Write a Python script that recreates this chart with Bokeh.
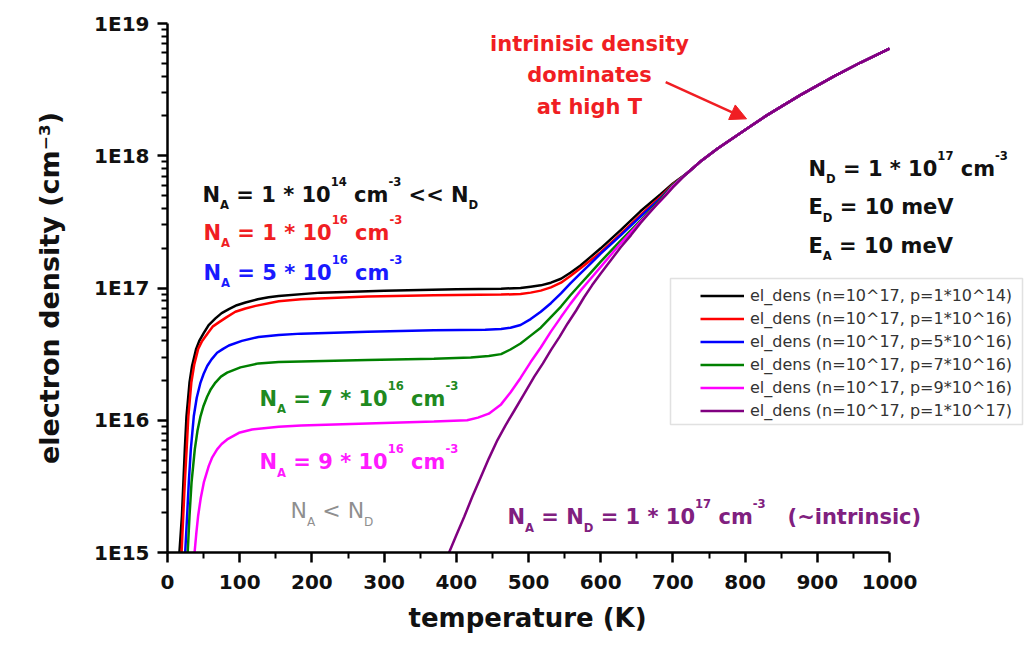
from bokeh.plotting import figure
from bokeh.models import (Range1d, FixedTicker, CustomJSTickFormatter, Label, Legend,
                          LegendItem, Arrow, NormalHead, BoxAnnotation, Title)
from bokeh.embed import file_html
from bokeh.resources import INLINE

# ---------------- data ----------------
x_ticks = [0, 100, 200, 300, 400, 500, 600, 700, 800, 900, 1000]
x_minor = [50, 150, 250, 350, 450, 550, 650, 750, 850, 950]
y_ticks = [1e15, 1e16, 1e17, 1e18, 1e19]
y_tick_labels = ["1E15", "1E16", "1E17", "1E18", "1E19"]

# shared high-temperature part (all curves coincide)
temps_high = [720, 740, 762, 785, 808, 830, 854, 877, 900, 923, 960, 1000]
log_n_high = [17.87, 17.965, 18.055, 18.14, 18.225, 18.305, 18.385, 18.46, 18.53, 18.60,
              18.705, 18.81]

temps_black = [16.5, 20, 22, 24, 26.3, 30.5, 34, 39.7, 44, 50.3, 57, 66.4, 75, 85, 96, 108, 125,
               140, 154, 212, 300, 400, 462, 489, 503, 517, 531, 545, 558, 572, 586, 600, 628,
               655, 683, 700]
log_n_black = [15.0, 15.28, 15.53, 15.78, 16.03, 16.285, 16.41, 16.54, 16.60, 16.66, 16.72,
               16.77, 16.81, 16.84, 16.87, 16.89, 16.915, 16.93, 16.94, 16.965, 16.98, 16.99,
               16.995, 17.0, 17.01, 17.02, 17.04, 17.07, 17.115, 17.17, 17.235, 17.30, 17.44,
               17.58, 17.71, 17.79]

temps_red = [19.5, 22, 24, 26.5, 28.9, 33, 37, 42.5, 48, 56, 63, 71, 82, 94, 108, 122, 154, 185,
             277, 369, 462, 489, 503, 517, 531, 545, 558, 572, 586, 600, 628, 655, 683, 700]
log_n_red = [15.0, 15.3, 15.53, 15.78, 16.03, 16.285, 16.42, 16.54, 16.6, 16.66, 16.71, 16.74,
             16.78, 16.82, 16.845, 16.865, 16.90, 16.915, 16.935, 16.945, 16.95, 16.955, 16.965,
             16.98, 17.005, 17.04, 17.09, 17.15, 17.21, 17.27, 17.41, 17.55, 17.69, 17.785]

temps_blue = [24.5, 27.2, 29.5, 32.3, 36.4, 40.5, 45.7, 50, 55, 61, 68.7, 77, 85, 103, 126, 154,
              185, 277, 369, 440, 462, 475, 489, 503, 517, 531, 545, 558, 572, 586, 600, 628,
              655, 683, 700]
log_n_blue = [15.0, 15.28, 15.53, 15.78, 16.03, 16.17, 16.285, 16.35, 16.41, 16.46, 16.51, 16.54,
              16.565, 16.60, 16.63, 16.645, 16.655, 16.67, 16.68, 16.685, 16.69, 16.70, 16.72,
              16.765, 16.82, 16.885, 16.96, 17.035, 17.11, 17.185, 17.26, 17.40, 17.54, 17.68,
              17.78]

temps_green = [28, 30.5, 33.3, 37.8, 41.5, 45.7, 50, 55, 60, 66.4, 74, 82.6, 101, 126, 154, 185,
               277, 369, 420, 445, 462, 475, 489, 503, 517, 531, 545, 558, 572, 586, 600, 628,
               655, 683, 700]
log_n_green = [15.0, 15.28, 15.53, 15.78, 15.92, 16.03, 16.11, 16.18, 16.235, 16.285, 16.33,
               16.36, 16.40, 16.43, 16.44, 16.445, 16.455, 16.465, 16.475, 16.485, 16.50, 16.535,
               16.58, 16.64, 16.70, 16.78, 16.86, 16.945, 17.03, 17.115, 17.20, 17.36, 17.51,
               17.67, 17.78]

temps_magenta = [37.5, 40, 42.5, 46, 50.3, 57.2, 62, 68.7, 75, 82.6, 99, 117, 154, 185, 277, 369,
                 415, 430, 445, 462, 475, 489, 503, 517, 531, 545, 558, 572, 586, 600, 628, 655,
                 683, 700]
log_n_magenta = [15.0, 15.15, 15.28, 15.41, 15.53, 15.655, 15.72, 15.78, 15.82, 15.855, 15.905,
                 15.93, 15.95, 15.96, 15.975, 15.99, 16.0, 16.02, 16.05, 16.12, 16.21, 16.32,
                 16.44, 16.55, 16.67, 16.78, 16.88, 16.98, 17.07, 17.16, 17.34, 17.50, 17.66,
                 17.77]

temps_purple = [390, 400, 411, 422, 434, 445, 457, 468, 480, 494, 508, 520, 531, 543, 554, 566,
                577, 588, 600, 614, 628, 642, 655, 667, 679, 690, 700]
log_n_purple = [15.0, 15.13, 15.27, 15.42, 15.57, 15.71, 15.85, 15.96, 16.07, 16.20, 16.33,
                16.43, 16.53, 16.63, 16.73, 16.83, 16.93, 17.02, 17.11, 17.21, 17.31, 17.40,
                17.49, 17.565, 17.64, 17.70, 17.76]

series_labels = [
    "el_dens (n=10^17, p=1*10^14)",
    "el_dens (n=10^17, p=1*10^16)",
    "el_dens (n=10^17, p=5*10^16)",
    "el_dens (n=10^17, p=7*10^16)",
    "el_dens (n=10^17, p=9*10^16)",
    "el_dens (n=10^17, p=1*10^17)",
]
series_temps = [temps_black, temps_red, temps_blue, temps_green, temps_magenta, temps_purple]
series_logs = [log_n_black, log_n_red, log_n_blue, log_n_green, log_n_magenta, log_n_purple]
series_colors = ["#000000", "#ff0000", "#0000ff", "#008000", "#ff00ff", "#800080"]

# ---------------- figure ----------------
W, H = 1031, 647
FL, FT, FB = 167, 23, 552          # frame edges in pixels
AX_R = 889                          # pixel where T = 1000 lies
x_end = 1000.0 * (W - FL) / (AX_R - FL)

p = figure(width=W, height=H, output_backend="svg", toolbar_location=None,
           x_range=Range1d(0, x_end), y_range=Range1d(1e15, 1e19), y_axis_type="log",
           min_border_left=FL, min_border_right=0, min_border_top=FT,
           min_border_bottom=H - FB)
p.outline_line_color = None
p.grid.visible = False
p.background_fill_color = "white"
p.border_fill_color = "white"

p.xaxis.ticker = FixedTicker(ticks=x_ticks, minor_ticks=x_minor)
p.xaxis.bounds = (0, 1000)
p.yaxis.ticker = FixedTicker(ticks=y_ticks,
                             minor_ticks=[m * 10.0 ** e for e in range(15, 19) for m in range(2, 10)])
p.yaxis.formatter = CustomJSTickFormatter(args=dict(labels=y_tick_labels),
                                          code="return labels[Math.round(Math.log10(tick)) - 15];")

for ax in (p.xaxis, p.yaxis):
    ax.axis_line_width = 2.5
    ax.axis_line_color = "black"
    ax.major_tick_line_width = 2.5
    ax.minor_tick_line_width = 2
    ax.major_tick_out = 10
    ax.major_tick_in = 0
    ax.minor_tick_out = 6
    ax.minor_tick_in = 0
    ax.major_label_text_font = "DejaVu Sans"
    ax.major_label_text_font_style = "bold"
    ax.major_label_text_font_size = "20px"
    ax.major_label_text_color = "#111111"
    ax.axis_label_text_font = "DejaVu Sans"
    ax.axis_label_text_font_style = "bold"
    ax.axis_label_text_color = "#111111"

p.xaxis.major_label_standoff = 12
p.yaxis.major_label_standoff = 8
p.yaxis.axis_label = "electron density (cm\u207b\u00b3)"
p.yaxis.axis_label_text_font_size = "27px"
p.yaxis.axis_label_standoff = 26

# x-axis title, positioned under the T = 0..1000 axis (frame extends further right)
p.add_layout(Title(text="temperature (K)", align="left", offset=408 - FL, standoff=18,
                   text_font="DejaVu Sans", text_font_style="bold", text_font_size="26px",
                   text_color="#111111"), "below")

renderers = []
for t, lg, c in zip(series_temps, series_logs, series_colors):
    xs = list(t) + temps_high
    ys = [10.0 ** v for v in list(lg) + log_n_high]
    renderers.append(p.line(xs, ys, line_color=c, line_width=2.5))

# ---------------- legend ----------------
legend = Legend(items=[LegendItem(label=l, renderers=[r]) for l, r in zip(series_labels, renderers)],
                location=(700 - FL, FB - 422), padding=0, margin=0, spacing=0,
                glyph_width=44, glyph_height=23, label_height=23, label_standoff=6,
                border_line_color=None, background_fill_alpha=0,
                label_text_font="DejaVu Sans", label_text_font_size="16px",
                label_text_color="#333333")
p.add_layout(legend)
p.add_layout(BoxAnnotation(left=670 - FL, right=1022 - FL, top=FB - 278, bottom=FB - 424,
                           left_units="screen", right_units="screen", top_units="screen",
                           bottom_units="screen", fill_color=None, fill_alpha=0,
                           line_color="#9a9a9a", line_width=1.5))

# ---------------- rich text annotations ----------------
BOLD_W = {" ": 0.348, "=": 0.838, "<": 0.838, "~": 0.838, "*": 0.523, "-": 0.415, "(": 0.457,
          ")": 0.457, "A": 0.774, "D": 0.830, "E": 0.683, "N": 0.837, "T": 0.682, "V": 0.774,
          "a": 0.675, "c": 0.593, "d": 0.716, "e": 0.678, "g": 0.716, "h": 0.712, "i": 0.343,
          "m": 1.042, "n": 0.712, "o": 0.687, "r": 0.493, "s": 0.595, "t": 0.478, "y": 0.652}
REG_W = {" ": 0.318, "<": 0.838, "N": 0.748, "A": 0.684, "D": 0.770}


def text_width(s, table, size):
    return sum(table.get(ch, 0.696) for ch in s) * size


def rich(px, py, segments, color, size=21, bold=True):
    table = BOLD_W if bold else REG_W
    x = px - FL
    y = FB - py
    for s, kind in segments:
        fs = size * 0.55 if kind else size
        dy = -0.5 * size if kind == "sub" else (0.62 * size if kind == "sup" else 0)
        lead = len(s) - len(s.lstrip(" "))
        txt = s.strip(" ")
        if txt:
            p.add_layout(Label(x=x + text_width(" " * lead, table, fs), y=y + dy,
                               x_units="screen", y_units="screen", text=txt,
                               text_font="DejaVu Sans", text_font_size=f"{fs:.1f}px",
                               text_font_style="bold" if bold else "normal",
                               text_color=color, text_align="left",
                               text_baseline="alphabetic"))
        x += text_width(s, table, fs)


def dens(mant, exp):
    return [("N", ""), ("A", "sub"), (f" = {mant} * 10", ""), (exp, "sup"),
            (" cm", ""), ("-3", "sup")]


rich(202, 194, dens("1", "14") + [(" << N", ""), ("D", "sub")], "#111111")
rich(203, 232, dens("1", "16"), "#f01e23")
rich(203, 272, dens("5", "16"), "#1a1aff")
rich(259, 398, dens("7", "16"), "#1f8a1f")
rich(259, 461.5, dens("9", "16"), "#ff1aff")
rich(290, 510, [("N", ""), ("A", "sub"), (" < N", ""), ("D", "sub")], "#8f8f8f", size=22, bold=False)
rich(507, 516.5, [("N", ""), ("A", "sub"), (" = N", ""), ("D", "sub"), (" = 1 * 10", ""),
                  ("17", "sup"), (" cm", ""), ("-3", "sup"), ("   (~intrinsic)", "")], "#80207f")
rich(808, 168, [("N", ""), ("D", "sub"), (" = 1 * 10", ""), ("17", "sup"), (" cm", ""),
                ("-3", "sup")], "#111111")
rich(808, 206.5, [("E", ""), ("D", "sub"), (" = 10 meV", "")], "#111111")
rich(808, 245, [("E", ""), ("A", "sub"), (" = 10 meV", "")], "#111111")

for line, py in zip(["intrinisic density", "dominates", "at high T"], [43, 74, 106.5]):
    p.add_layout(Label(x=589 - FL, y=FB - py, x_units="screen", y_units="screen", text=line,
                       text_font="DejaVu Sans", text_font_size="21px", text_font_style="bold",
                       text_color="#f01e23", text_align="center", text_baseline="alphabetic"))

p.add_layout(Arrow(end=NormalHead(size=16, fill_color="#f01e23", line_color="#f01e23"),
                   x_start=690, y_start=10 ** 18.556, x_end=802, y_end=10 ** 18.279,
                   line_color="#f01e23", line_width=2.5))

open("out.html", "w").write(file_html(p, INLINE))
